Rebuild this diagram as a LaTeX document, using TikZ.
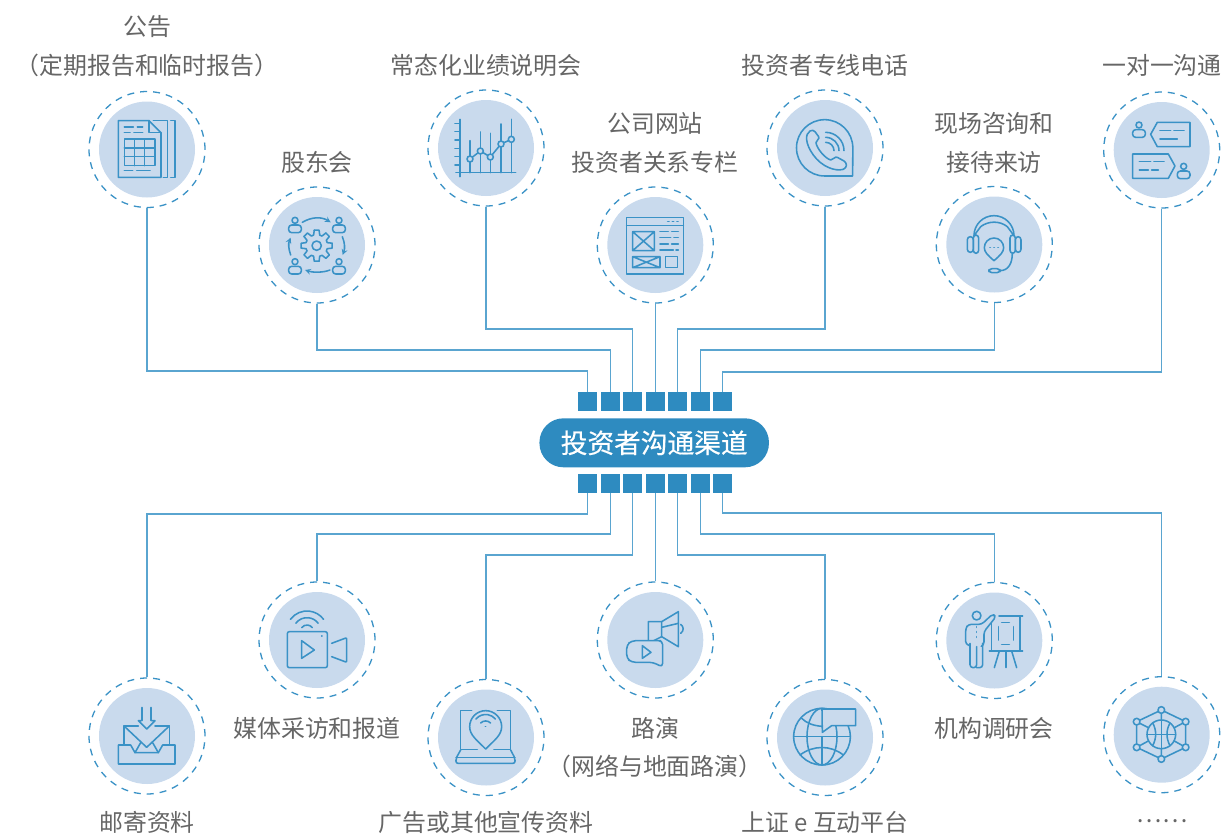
\documentclass[tikz,border=0pt]{standalone}
\usepackage{fontspec}
\setmainfont{Noto Sans CJK SC}
\newfontfamily\hubfont[FakeBold=0.5]{Noto Sans CJK SC}
\usetikzlibrary{calc,positioning,arrows}
\definecolor{portblue}{HTML}{2E8BC0}
\definecolor{linkblue}{HTML}{5AA5D0}
\definecolor{iconblue}{HTML}{3A92C6}
\definecolor{discblue}{HTML}{C9DAED}
\definecolor{labelgray}{HTML}{666666}
\tikzset{
  chan/.style={ % dashed ring with the pale disc in it
    circle, draw=iconblue, line width=1.3pt, dash pattern=on 7pt off 6pt,
    minimum size=116pt, inner sep=0pt,
    path picture = {
      \fill[discblue] (path picture bounding box.center) circle (48);
    }
  },
  port/.style={
    rectangle, fill=portblue, minimum size=19pt, inner sep=0pt
  },
  hub/.style={
    rectangle, fill=portblue, rounded corners=24pt, minimum width=229.5pt,
    minimum height=49pt, inner sep=0pt, text=white,
    font=\hubfont\fontsize{26.7}{26.7}\selectfont
  },
  chanlabel/.style={ % text beside a ring
    text=labelgray, inner sep=0pt, font=\fontsize{23.9}{23.9}\selectfont
  },
  link/.style={linkblue, line width=1.4pt},
  iconpart/.style={ % 3 units to the pixel
    x=.33333pt, y=-.33333pt, color=iconblue, line width=1.55pt,
    line join=round, line cap=round
  }
}
\newcommand\icperson[2]{
  \draw (#1,#2) circle [radius=9];
  \draw[rounded corners=3pt] (#1-19,#2+37) -- (#1-19,#2+14) -- (#1+19,#2+14) -- (#1+19,#2+37) -- cycle;
}
\begin{document}
\begin{tikzpicture}[x=1pt, y=-1pt]
  \useasboundingbox (0,0) rectangle (1223,833);

  \node[chan] (notice) at (147,149.5) {};
  \node[chan] (meeting) at (317,245) {};
  \node[chan] (brief) at (486,148) {};
  \node[chan] (site) at (655.3,245) {};
  \node[chan] (hotline) at (825,148) {};
  \node[chan] (visit) at (994.3,244.5) {};
  \node[chan] (talk) at (1161.7,150) {};

  \node[chan] (mail) at (147,736) {};
  \node[chan] (media) at (317,640) {};
  \node[chan] (ads) at (486,737.5) {};
  \node[chan] (roadshow) at (655.3,640) {};
  \node[chan] (einter) at (825,737.5) {};
  \node[chan] (survey) at (994.3,640.5) {};
  \node[chan] (others) at (1161.7,734.7) {};

  \node[hub] (hub) at (654.2,442.8) {投资者沟通渠道};

  \foreach \i/\x in {1/587.2,2/610.2,3/632.5,4/655.5,5/677.5,6/700.5,7/722.5} {
    \node[port] (p\i) at (\x,401.5) {};
    \node[port] (q\i) at (\x,483.5) {};
  }

  \foreach \a/\b/\y in {notice/p1/371,meeting/p2/350,brief/p3/329,hotline/p5/329,visit/p6/350,talk/p7/372}
    \draw[link] (\a.south) -- (\a.south |- 0,\y) -| (\b.north);
  \draw[link] (site.south) -- (site.south -| p4.north) -- (p4.north);
  \foreach \a/\b/\y in {mail/q1/514,media/q2/534,ads/q3/555,einter/q5/555,survey/q6/534,others/q7/513}
    \draw[link] (\b.south) |- (\a.north |- 0,\y) -- (\a.north);
  \draw[link] (q4.south) -- (roadshow.north -| q4.south);

  \node[chanlabel] (t1a) at (147,27) {公告};
  \node[chanlabel] (t1b) at (147,65) {（定期报告和临时报告）};
  \node[chanlabel] (t2) at (317,162) {股东会};
  \node[chanlabel] (t3) at (486,65) {常态化业绩说明会};
  \node[chanlabel] (t4a) at (655,123) {公司网站};
  \node[chanlabel] (t4b) at (655,162) {投资者关系专栏};
  \node[chanlabel] (t5) at (825,65) {投资者专线电话};
  \node[chanlabel] (t6a) at (994,123.5) {现场咨询和};
  \node[chanlabel] (t6b) at (994,162.5) {接待来访};
  \node[chanlabel] (t7) at (1162,65) {一对一沟通};
  \node[chanlabel] (b1) at (147,822) {邮寄资料};
  \node[chanlabel] (b2) at (317,728) {媒体采访和报道};
  \node[chanlabel] (b3) at (486,822) {广告或其他宣传资料};
  \node[chanlabel] (b4a) at (655,728) {路演};
  \node[chanlabel] (b4b) at (655,766) {（网络与地面路演）};
  \node[chanlabel] (b5) at (825,822) {上证 e 互动平台};
  \node[chanlabel] (b6) at (994,728) {机构调研会};
  \node[chanlabel] (b7) at (1162,821.5) {……};

  % upper row, left half
  \begin{scope}[iconpart, shift={(240,240)}]
    \draw (115,122) -- (207,122) -- (243,158) -- (243,292) -- (115,292) -- cycle;
    \draw (207,122) -- (207,158) -- (243,158);
    \draw (220,122) -- (263,122) -- (263,292) -- (250,292);
    \draw (272,122) -- (285,122) -- (285,292) -- (272,292);
    \draw (133,177) rectangle (225,257);
    \draw (133,204) -- (225,204) (133,230) -- (225,230) (163,177) -- (163,257) (193,177) -- (193,257);
    \draw (133,141) -- (160,141) (172,141) -- (188,141) (133,157) -- (150,157) (162,157) -- (188,157);
    \draw (133,272) -- (158,272) (170,272) -- (210,272);
    \icperson{645}{421}
    \icperson{777}{421}
    \icperson{645}{545}
    \icperson{777}{545}
    \draw[-stealth] (667,427) .. controls (695,410) and (725,410) .. (752,427);
    \draw[-stealth] (787,470) .. controls (795,490) and (795,505) .. (788,525);
    \draw[-stealth] (750,570) .. controls (730,578) and (700,578) .. (675,570);
    \draw[-stealth] (632,525) .. controls (625,505) and (625,490) .. (632,473);
    \begin{scope}[shift={(710,497)}]
      \foreach \a in {0,45,...,315}
        \draw (\a-9:47) -- (\a+9:47) -- (\a+16:33) -- (\a+29:33) -- (\a+36:47);
      \draw (0,0) circle [radius=14];
    \end{scope}
  \end{scope}

  % upper row, middle
  \begin{scope}[iconpart, shift={(1260,240)}]
    \draw (120,118) -- (120,290) (108,278) -- (287,278);
    \foreach \y in {130,155,180,205,230,255}
      \draw (105,\y) -- (120,\y);
    \draw (150,182) -- (150,278) (181,156) -- (181,278) (211,160) -- (211,278) (243,132) -- (243,278) (274,118) -- (274,278);
    \draw (150,237) -- (181,213) -- (211,231) -- (243,192) -- (274,178);
    \foreach \x/\y in {150/237,181/213,211/231,243/192,274/178}
      \draw[fill=discblue] (\x,\y) circle [radius=9];
    \draw (620,412) rectangle (790,582) (620,437) -- (790,437);
    \draw (743,425) -- (747,425) (757,425) -- (761,425) (771,425) -- (774,425);
    \draw (638,455) rectangle (703,512) (638,455) -- (703,512) (638,512) -- (703,455);
    \draw (638,530) rectangle (720,563) (638,530) -- (720,563) (638,563) -- (720,530);
    \draw (737,530) rectangle (773,563);
    \draw (720,455) -- (745,455) (755,455) -- (775,455) (720,473) -- (752,473) (762,473) -- (775,473);
    \draw (720,492) -- (745,492) (755,492) -- (775,492) (720,510) -- (760,510) (768,510) -- (775,510);
  \end{scope}

  % upper row, right half
  \begin{scope}[iconpart, shift={(2280,240)}]
    \draw (278,288) -- (194,288) arc [start angle=90, end angle=360, radius=84.5] -- cycle;
    \draw (150,153) .. controls (135,162) and (135,190) .. (160,225) .. controls (185,260) and (225,275) .. (250,268) .. controls (262,262) and (262,250) .. (252,243) -- (232,232) .. controls (225,228) and (220,240) .. (212,240) .. controls (195,235) and (170,205) .. (168,188) .. controls (168,180) and (180,178) .. (176,170) -- (165,155) .. controls (162,150) and (155,150) .. (150,153) -- cycle;
    \draw (197,157) arc [start angle=270, end angle=360, radius=55];
    \draw (197,172) arc [start angle=270, end angle=360, radius=40];
    \draw (197,187) arc [start angle=270, end angle=360, radius=25];
    \draw (642,467) arc [start angle=180, end angle=360, radius=60];
    \draw (642,467) -- (662,440) .. controls (685,422) and (720,422) .. (742,440) -- (762,467);
    \draw[rounded corners=3pt] (622,470) rectangle (640,517);
    \draw[rounded corners=3pt] (640,465) rectangle (656,520);
    \draw[rounded corners=3pt] (750,465) rectangle (766,520);
    \draw[rounded corners=3pt] (766,470) rectangle (783,517);
    \draw (702,542) .. controls (682,525) and (673,515) .. (673,503) arc [start angle=180, end angle=360, radius=29] .. controls (731,515) and (722,525) .. (702,542);
    \draw (690,503) -- (691,503) (702,503) -- (703,503) (714,503) -- (715,503);
    \draw (757,520) .. controls (757,550) and (745,572) .. (720,572);
    \draw[rounded corners=3pt] (687,566) rectangle (720,578);
    \icperson{1137}{135}
    \draw (1290,127) -- (1192,127) -- (1172,163) -- (1192,200) -- (1290,200) -- cycle;
    \draw (1200,152) -- (1232,152) (1242,152) -- (1272,152) (1200,177) -- (1252,177);
    \draw (1118,222) -- (1225,222) -- (1245,258) -- (1225,295) -- (1118,295) -- cycle;
    \draw (1138,245) -- (1172,245) (1182,245) -- (1212,245) (1138,270) -- (1165,270) (1175,270) -- (1195,270);
    \icperson{1271}{259}
  \end{scope}

  % lower row, left half
  \begin{scope}[iconpart, shift={(240,1725)}]
    \draw (186,397) -- (186,437) -- (175,437) -- (200,462) -- (225,437) -- (213,437) -- (213,397);
    \draw (175,453) -- (132,453) -- (132,508) (225,453) -- (268,453) -- (268,508);
    \draw (132,453) -- (200,517) -- (268,453);
    \draw (115,510) -- (152,510) -- (165,533) -- (235,533) -- (248,510) -- (285,510) -- (285,567) -- (115,567) -- cycle;
    \draw (165,533) -- (182,503) (235,533) -- (218,503);
    \draw[rounded corners=2pt] (622,170) rectangle (742,278);
    \draw[rounded corners=1pt] (755,205) -- (800,188) -- (800,262) -- (755,245);
    \draw (665,197) -- (703,225) -- (665,250) -- cycle;
    \draw (681,170) ++(217:62) arc [start angle=217, end angle=323, radius=62];
    \draw (681,170) ++(217:42) arc [start angle=217, end angle=323, radius=42];
    \draw (681,170) ++(217:20) arc [start angle=217, end angle=323, radius=20];
    \draw (725,183) -- (726,183);
  \end{scope}

  % lower row, middle
  \begin{scope}[iconpart, shift={(1260,1725)}]
    \draw (155,407) -- (122,407) -- (122,523) -- (172,523) (232,407) -- (272,407) -- (272,523) -- (222,523);
    \draw[rounded corners=2pt] (122,525) -- (108,550) -- (108,565) -- (285,565) -- (285,550) -- (272,525);
    \draw (108,548) -- (285,548);
    \draw (197,522) .. controls (170,495) and (149,480) .. (149,455) arc [start angle=180, end angle=360, radius=48] .. controls (245,480) and (224,495) .. (197,522);
    \draw (168,432) arc [start angle=220, end angle=320, radius=38];
    \draw (182,444) arc [start angle=225, end angle=315, radius=21];
    \draw (196,455) -- (197,455);
    \draw (685,205) -- (685,140) -- (725,140) -- (775,110) -- (775,215) -- (725,185) -- (685,205);
    \draw (725,140) -- (725,185) (725,157) -- (775,145);
    \draw (782,148) .. controls (792,155) and (792,168) .. (782,175);
    \draw[fill=discblue, rounded corners=4pt] (710,197) -- (728,197) -- (728,277) -- (700,262) -- (635,262) -- (620,250) -- (620,210) -- (635,197) -- cycle;
    \draw (667,212) -- (693,232) -- (667,250) -- cycle;
  \end{scope}

  % lower row, right half
  \begin{scope}[iconpart, shift={(2280,1725)}]
    \draw (186,485) circle [radius=85];
    \draw (186,485) circle [x radius=45, y radius=85];
    \draw (101,485) -- (271,485) (186,485) -- (186,570);
    \draw (120,540) .. controls (160,510) and (212,510) .. (250,540);
    \draw (125,430) .. controls (140,445) and (160,452) .. (186,454);
    \draw[fill=discblue] (186,402) -- (287,402) -- (287,452) -- (215,452) -- (187,472) -- cycle;
    \draw (650,122) circle [radius=13];
    \draw[rounded corners=3pt] (630,212) -- (617,208) -- (617,160) -- (625,148) -- (665,148) -- (698,117) -- (708,125) -- (672,170) -- (672,210) -- (668,212);
    \draw[rounded corners=3pt] (630,205) -- (630,278) -- (650,278) -- (650,215) (650,278) -- (668,278) -- (668,205);
    \draw (650,155) -- (650,157) (650,170) -- (650,172) (650,185) -- (650,187);
    \draw (717,123) -- (788,123) (780,123) -- (780,228) (695,145) -- (695,228) (688,228) -- (788,228);
    \draw (718,228) -- (703,278) (738,228) -- (738,278) (755,228) -- (770,278);
    \draw (725,143) -- (748,143) (715,155) -- (715,195) (760,155) -- (760,195) (725,208) -- (748,208);
    \draw (1204,405) -- (1277,440) -- (1277,517) -- (1204,552) -- (1130,517) -- (1130,440) -- cycle;
    \draw (1204,405) -- (1204,435) (1204,521) -- (1204,552) (1130,440) -- (1165,458) (1277,440) -- (1243,458) (1130,517) -- (1165,498) (1277,517) -- (1243,498);
    \foreach \x/\y in {1204/405,1277/440,1277/517,1204/552,1130/517,1130/440}
      \draw[fill=discblue] (\x,\y) circle [radius=10];
    \draw (1204,478) circle [radius=43];
    \draw (1161,478) -- (1247,478) (1204,435) -- (1204,521);
    \draw (1178,444) .. controls (1190,465) and (1190,490) .. (1178,512);
    \draw (1230,444) .. controls (1218,465) and (1218,490) .. (1230,512);
  \end{scope}
\end{tikzpicture}
\end{document}
